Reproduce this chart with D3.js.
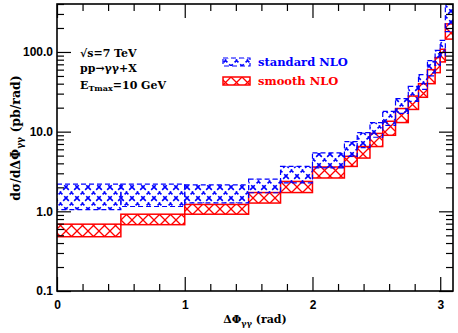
<!DOCTYPE html>
<html>
<head>
<meta charset="utf-8">
<script src="https://cdn.jsdelivr.net/npm/d3@7"></script>
<style>
body { margin: 0; background: #fff; }
svg text { font-family: "DejaVu Serif", serif; font-weight: bold; }
.tick text { font-family: "Liberation Sans", Arial, sans-serif; font-weight: bold; font-size: 12px; }
</style>
</head>
<body>
<div class="chart"></div>
<script>
// bin edges (delta phi, rad)
var edges = [0, 0.5, 1.0, 1.5, 1.75, 2.0, 2.25, 2.35, 2.45, 2.55, 2.65, 2.75, 2.83, 2.9, 2.96, 3.0, 3.04, 3.1];
// smooth NLO band (low / high), pb/rad
var smoothLo = [0.48, 0.68, 0.92, 1.27, 1.72, 2.62, 3.66, 4.66, 6.5, 9.0, 13, 19, 27, 40, 55, 75, 145];
var smoothHi = [0.69, 0.92, 1.22, 1.72, 2.37, 3.6, 4.9, 6.5, 9.5, 13.5, 19.5, 28, 40, 60, 85, 108, 225];
// standard NLO band
var stdLo = [1.05, 1.15, 1.28, 1.71, 2.28, 3.5, 4.9, 6.3, 8.5, 12, 17, 24, 34, 50, 68, 90, 180];
var stdHi = [2.2, 2.2, 2.15, 2.54, 3.66, 5.4, 7.5, 9.7, 13, 18, 26, 37, 52, 78, 105, 140, 420];

var xMajor = [0, 1, 2, 3];
var yMajor = [0.1, 1, 10, 100];
var yLabels = ["0.1", "1.0", "10.0", "100.0"];

var W = 458, H = 333
  , pL = 57, pR = 453, pT = 4, pB = 291;

var svg = d3.select('.chart').append('svg').attr('width', W).attr('height', H);

var x = d3.scaleLinear().domain([0, 3.1]).range([pL, pR])
  , y = d3.scaleLog().domain([0.1, 400]).range([pB, pT]);

var defs = svg.append('defs');
defs.append('clipPath').attr('id', 'plotclip')
  .append('rect').attr('x', pL).attr('y', pT).attr('width', pR - pL).attr('height', pB - pT);

// red cross hatch
var pr = defs.append('pattern').attr('id', 'redhatch').attr('patternUnits', 'userSpaceOnUse')
  .attr('width', 11).attr('height', 11);
pr.append('path').attr('d', 'M0,0L11,11M11,0L0,11').attr('stroke', '#ff0000').attr('stroke-width', 1.3).attr('fill', 'none');

// blue dashed hatch
var pb = defs.append('pattern').attr('id', 'bluehatch').attr('patternUnits', 'userSpaceOnUse')
  .attr('width', 11).attr('height', 11);
pb.append('path').attr('d', 'M0,0L11,11M11,0L0,11')
  .attr('stroke', '#0000ff').attr('stroke-width', 1.6).attr('fill', 'none').attr('stroke-dasharray', '4,2.5');

var bins = edges.slice(0, -1).map(function(e, i) {
  return { x0: e, x1: edges[i + 1], sLo: smoothLo[i], sHi: smoothHi[i], bLo: stdLo[i], bHi: stdHi[i] };
});

var g = svg.append('g').attr('clip-path', 'url(#plotclip)');

g.selectAll('rect.smooth').data(bins).enter().append('rect')
  .attr('class', 'smooth')
  .attr('x', function(d) { return x(d.x0); })
  .attr('width', function(d) { return x(d.x1) - x(d.x0); })
  .attr('y', function(d) { return y(d.sHi); })
  .attr('height', function(d) { return y(d.sLo) - y(d.sHi); })
  .attr('fill', 'url(#redhatch)')
  .attr('stroke', '#ff0000').attr('stroke-width', 1.5);

g.selectAll('rect.std').data(bins).enter().append('rect')
  .attr('class', 'std')
  .attr('x', function(d) { return x(d.x0); })
  .attr('width', function(d) { return x(d.x1) - x(d.x0); })
  .attr('y', function(d) { return y(d.bHi); })
  .attr('height', function(d) { return y(d.bLo) - y(d.bHi); })
  .attr('fill', 'url(#bluehatch)')
  .attr('stroke', '#0000ff').attr('stroke-width', 1.2).attr('stroke-dasharray', '5,3');

// axes, ticks inward
var xMinor = d3.range(0, 3.11, 0.2).filter(function(v) { return Math.abs(v - Math.round(v)) > 1e-6; });
var yMinor = [];
[0.1, 1, 10, 100].forEach(function(dec) {
  for (var k = 2; k <= 9; k++) if (dec * k <= 400) yMinor.push(dec * k);
});

var axB = svg.append('g').attr('transform', `translate(0,${pB})`)
  .call(d3.axisBottom(x).tickValues(xMajor).tickFormat(d3.format('d')).tickSizeInner(-14).tickSizeOuter(0).tickPadding(14));
svg.append('g').attr('transform', `translate(0,${pB})`)
  .call(d3.axisBottom(x).tickValues(xMinor).tickFormat('').tickSizeInner(-7).tickSizeOuter(0));
svg.append('g').attr('transform', `translate(0,${pT})`)
  .call(d3.axisTop(x).tickValues(xMajor).tickFormat('').tickSizeInner(-14).tickSizeOuter(0));
svg.append('g').attr('transform', `translate(0,${pT})`)
  .call(d3.axisTop(x).tickValues(xMinor).tickFormat('').tickSizeInner(-7).tickSizeOuter(0));
svg.append('g').attr('transform', `translate(${pL},0)`)
  .call(d3.axisLeft(y).tickValues(yMajor).tickFormat(function(d, i) { return yLabels[i]; }).tickSizeInner(-14).tickSizeOuter(0).tickPadding(4));
svg.append('g').attr('transform', `translate(${pL},0)`)
  .call(d3.axisLeft(y).tickValues(yMinor).tickFormat('').tickSizeInner(-7).tickSizeOuter(0));
svg.append('g').attr('transform', `translate(${pR},0)`)
  .call(d3.axisRight(y).tickValues(yMajor).tickFormat('').tickSizeInner(-14).tickSizeOuter(0));
svg.append('g').attr('transform', `translate(${pR},0)`)
  .call(d3.axisRight(y).tickValues(yMinor).tickFormat('').tickSizeInner(-7).tickSizeOuter(0));

svg.selectAll('.domain').remove();
svg.selectAll('.tick line').attr('stroke', '#000').attr('stroke-width', 1.2);
svg.selectAll('.tick text').attr('fill', '#000');
axB.selectAll('.tick text').attr('dy', '0.3em');

svg.append('rect').attr('x', pL).attr('y', pT).attr('width', pR - pL).attr('height', pB - pT)
  .attr('fill', 'none').attr('stroke', '#000').attr('stroke-width', 1.6);

// annotations
var ann = svg.append('g').attr('font-size', 11).attr('fill', '#000');
ann.append('text').attr('x', 80).attr('y', 57).text('√s=7 TeV');
ann.append('text').attr('x', 80).attr('y', 72).text('pp→γγ+X');
var et = ann.append('text').attr('x', 80).attr('y', 89);
et.append('tspan').text('E');
et.append('tspan').attr('font-size', 8).attr('dy', 2).text('Tmax');
et.append('tspan').attr('dy', -2).text('=10 GeV');

// legend
svg.append('rect').attr('x', 223).attr('y', 58).attr('width', 27).attr('height', 8).attr('fill', 'url(#bluehatch)')
  .attr('stroke', '#0000ff').attr('stroke-width', 1.2).attr('stroke-dasharray', '5,3');
svg.append('text').attr('x', 258).attr('y', 66).attr('font-size', 11.5).attr('fill', '#0000ff').text('standard NLO');
svg.append('rect').attr('x', 223).attr('y', 77).attr('width', 27).attr('height', 8)
  .attr('fill', 'url(#redhatch)').attr('stroke', '#ff0000').attr('stroke-width', 1.5);
svg.append('text').attr('x', 258).attr('y', 85).attr('font-size', 11.5).attr('fill', '#ff0000').text('smooth NLO');

// axis titles
var xt = svg.append('text').attr('x', 255).attr('y', 323).attr('text-anchor', 'middle').attr('font-size', 11);
xt.append('tspan').text('ΔΦ');
xt.append('tspan').attr('font-size', 8).attr('dy', 3).text('γγ');
xt.append('tspan').attr('dy', -3).text(' (rad)');

var yt = svg.append('text').attr('transform', 'translate(20,138) rotate(-90)').attr('text-anchor', 'middle').attr('font-size', 12.5);
yt.append('tspan').text('dσ/dΔΦ');
yt.append('tspan').attr('font-size', 9).attr('dy', 3).text('γγ');
yt.append('tspan').attr('dy', -3).text(' (pb/rad)');
</script>
</body>
</html>
